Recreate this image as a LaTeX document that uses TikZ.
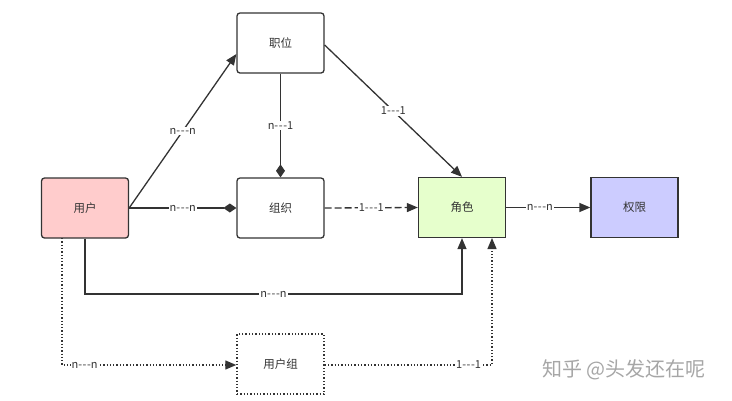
\documentclass[tikz,border=0pt]{standalone}
\usepackage{fontspec}
\setmainfont[Ligatures=NoCommon]{Noto Sans CJK SC}
\usetikzlibrary{arrows.meta}
\definecolor{ln}{HTML}{333333}
\definecolor{pinkf}{HTML}{FFCCCC}
\definecolor{greenf}{HTML}{E6FFCC}
\definecolor{bluef}{HTML}{CCCCFF}
\newcommand{\tri}{{-}\kern0.6pt{-}\kern0.6pt{-}}
\begin{document}
\begin{tikzpicture}[x=1pt,y=-1pt,
  box/.style={draw=ln,line width=1.3pt,minimum width=87pt,minimum height=60pt,inner sep=0pt,font=\fontsize{11.5}{13}\selectfont,text=ln},
  rbox/.style={box,rounded corners=3pt},
  conn/.style={draw=ln,line width=1.3pt},
  arr/.style={-{Triangle[length=11pt,width=9pt]}},
  dia/.style={-{Diamond[length=13pt,width=9pt]}},
  lbl/.style={fill=white,inner sep=1pt,font=\fontsize{11}{12}\selectfont,text=ln}]
\useasboundingbox (0,0) rectangle (732,400);
\node[rbox] (zw) at (280.5,43) {职位};
\node[rbox,fill=pinkf] (yh) at (85,208) {用户};
\node[rbox] (zz) at (280.5,208) {组织};
\node[box,fill=greenf] (js) at (462,207.5) {角色};
\node[box,fill=bluef] (qx) at (634.5,207.5) {权限};
\node[box,dotted,line width=1.4pt] (yhz) at (280.5,364) {用户组};
% connectors
\draw[conn,arr] (yh.east) -- (zw.south west |- 0,54) node[lbl,pos=0.5] {n\tri n};
\draw[conn,dia] (zw.south) -- (zz.north) node[lbl,pos=0.5] {n\tri 1};
\draw[conn,dia] (yh.east) -- (zz.west) node[lbl,pos=0.5] {n\tri n};
\draw[conn,arr,dash pattern=on 7pt off 3pt] (zz.east) -- (js.west) node[lbl,pos=0.5] {1\tri 1};
\draw[conn,arr] (zw.east |- 0,45) -- (js.north) node[lbl,pos=0.5] {1\tri 1};
\draw[conn,arr] (js.east) -- (qx.west) node[lbl,pos=0.4] {n\tri n};
\coordinate (a1) at (85,294);
\coordinate (a2) at (462,294);
\draw[conn,arr] (yh.south) -- (a1) -- node[lbl,pos=0.5] {n\tri n} (a2) -- (js.south);
\coordinate (b0) at (62,238);
\coordinate (b1) at (62,365);
\draw[conn,arr,dotted] (b0) -- (b1) -- node[lbl,pos=0.13] {n\tri n} (yhz.west |- b1);
\coordinate (c1) at (492,365);
\coordinate (c2) at (492,238);
\draw[conn,arr,dotted] (yhz.east |- c1) -- node[lbl,pos=0.86] {1\tri 1} (c1) -- (c2);
\node[text=black!35,font=\fontsize{20}{24}\selectfont,anchor=center] (wm) at (624,370) {知乎 @头发还在呢};
\end{tikzpicture}
\end{document}
